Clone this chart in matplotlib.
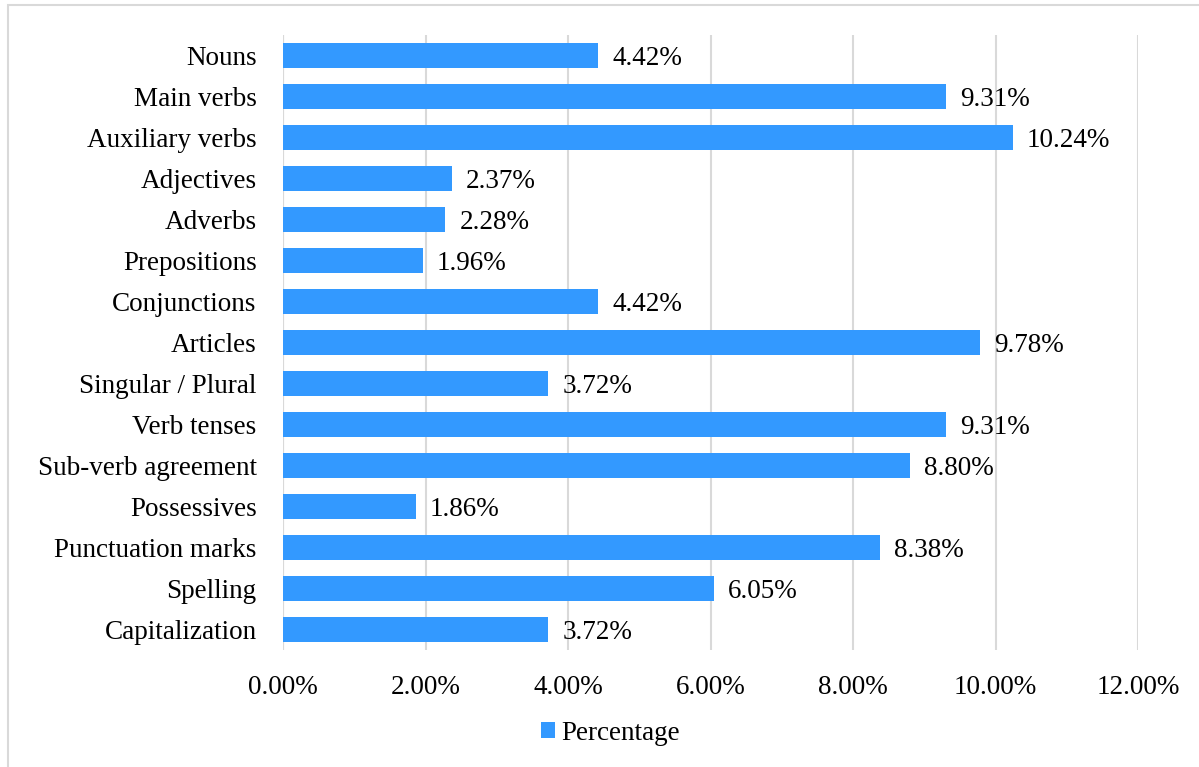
import matplotlib.pyplot as plt
from matplotlib.patches import Rectangle

categories = ['Nouns', 'Main verbs', 'Auxiliary verbs', 'Adjectives', 'Adverbs',
              'Prepositions', 'Conjunctions', 'Articles', 'Singular / Plural',
              'Verb tenses', 'Sub-verb agreement', 'Possessives',
              'Punctuation marks', 'Spelling', 'Capitalization']
values = [4.42, 9.31, 10.24, 2.37, 2.28, 1.96, 4.42, 9.78, 3.72,
          9.31, 8.80, 1.86, 8.38, 6.05, 3.72]
ticks = [0, 2, 4, 6, 8, 10, 12]

plt.rcParams['font.family'] = ['Liberation Serif', 'DejaVu Serif']
fs = 19.5

fig = plt.figure(figsize=(11.99, 7.67), dpi=100)
ax = fig.add_axes([283/1199, 1-650/767, (1138-283)/1199, (650-35)/767])

# outer chart border
fig.patches.append(Rectangle((8/1199, -0.1), 1.1, 1.1 - 5/767, transform=fig.transFigure,
                             fill=False, edgecolor='#d9d9d9', linewidth=1.5))

y = list(range(len(categories)))
bars = ax.barh(y, values, height=0.61, color='#3399ff', label='Percentage', zorder=3)
for yi, v in zip(y, values):
    ax.text(v + 0.2, yi, f'{v:.2f}%', va='center_baseline', ha='left', fontsize=fs)

ax.set_ylim(len(categories) - 0.5, -0.5)
ax.set_xlim(0, 12)
ax.set_yticks(y)
ax.set_yticklabels(categories, fontsize=fs, va='center_baseline')
ax.set_xticks(ticks)
ax.set_xticklabels([f'{t:.2f}%' for t in ticks], fontsize=fs)
ax.tick_params(axis='both', length=0)
ax.tick_params(axis='x', pad=18)
ax.tick_params(axis='y', pad=19)
ax.grid(axis='x', color='#d9d9d9', linewidth=1.5, zorder=0)
for s in ax.spines.values():
    s.set_visible(False)
ax.axvline(0, color='#d9d9d9', linewidth=1.5, zorder=1)

fig.legend(handles=[bars], labels=['Percentage'], loc='center', bbox_to_anchor=(610/1199, 1-733/767),
           frameon=False, fontsize=fs, handlelength=0.55, handleheight=0.55, handletextpad=0.2)

fig.savefig('out.png', dpi=100)
